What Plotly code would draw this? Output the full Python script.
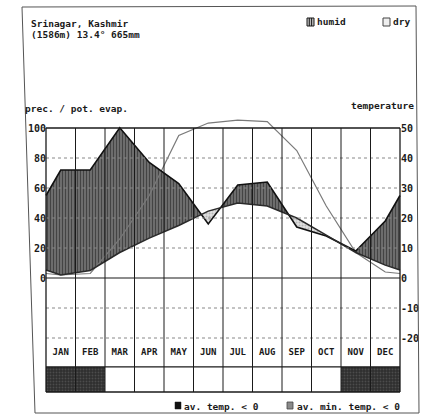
import plotly.graph_objects as go

# ---------------- data ----------------
months = ["JAN", "FEB", "MAR", "APR", "MAY", "JUN", "JUL", "AUG", "SEP", "OCT", "NOV", "DEC"]
prec_mm = [72, 72, 101, 77, 63, 36, 62, 64, 34, 28, 18, 38]          # precipitation
temp_c = [1.0, 2.5, 8.5, 13.3, 17.5, 22.3, 25.0, 24.0, 20.0, 14.3, 8.5, 4.3]  # av. temperature
pet_mm = [2, 3, 26, 55, 95, 133, 153, 143, 85, 48, 17, 4]            # pot. evaporation
frost_min = [1, 1, 0, 0, 0, 0, 0, 0, 0, 0, 1, 1]                      # av. min. temp < 0
left_ticks = [0, 20, 40, 60, 80, 100]
right_ticks = [-20, -10, 0, 10, 20, 30, 40, 50]

W, H = 424, 419
FONT = "DejaVu Sans Mono"
INK = "#1a1a1a"

# layout constants (in prec units of the left axis)
LABEL_Y = -49.5
ROW_MID = -59.3
ROW_BOT = -76.0


def pxx(x):
    return x / W


def pxy(y):
    return 1 - y / H


def disp(v):
    # Walter-Lieth: above 100 mm the scale is reduced to 1/10
    return v if v <= 100 else 100 + (v - 100) / 10.0


n = len(months)
xs = [0.0] + [i + 0.5 for i in range(n)] + [float(n)]


def closed(vals):
    e = (vals[0] + vals[-1]) / 2.0
    return [e] + list(vals) + [e]


P = closed([disp(v) for v in prec_mm])
T2 = closed([2 * t for t in temp_c])
E = closed([disp(v) for v in pet_mm])
Tc = closed(temp_c)

# polygon vertices incl. crossing points of prec and temperature curves
X, PP, TT = [xs[0]], [P[0]], [T2[0]]
for k in range(len(xs) - 1):
    d0 = P[k] - T2[k]
    d1 = P[k + 1] - T2[k + 1]
    if d0 * d1 < 0:
        f = d0 / (d0 - d1)
        xc = xs[k] + f * (xs[k + 1] - xs[k])
        vc = P[k] + f * (P[k + 1] - P[k])
        X.append(xc); PP.append(vc); TT.append(vc)
    X.append(xs[k + 1]); PP.append(P[k + 1]); TT.append(T2[k + 1])

hum_top = [max(a, b) for a, b in zip(PP, TT)]
dry_bot = [min(a, b) for a, b in zip(PP, TT)]

fig = go.Figure()

# humid (hatched)
fig.add_trace(go.Scatter(
    x=X + X[::-1], y=hum_top + TT[::-1], fill="toself", mode="lines",
    line=dict(width=0), fillcolor="#6e6e6e",
    fillpattern=dict(shape="|", size=3, solidity=0.55, fgcolor="#080808", bgcolor="#808080"),
    hoverinfo="skip"))
# dry (dotted)
fig.add_trace(go.Scatter(
    x=X + X[::-1], y=TT + dry_bot[::-1], fill="toself", mode="lines",
    line=dict(width=0), fillcolor="#dddddd",
    fillpattern=dict(shape=".", size=3, solidity=0.35, fgcolor="#8a8a8a", bgcolor="#e0e0e0"),
    hoverinfo="skip"))

# frost row
fx, fy = [], []
for i, f in enumerate(frost_min):
    if f:
        fx += [i, i + 1, i + 1, i, i, None]
        fy += [ROW_BOT, ROW_BOT, ROW_MID, ROW_MID, ROW_BOT, None]
fig.add_trace(go.Scatter(
    x=fx, y=fy, fill="toself", mode="lines", line=dict(width=0),
    fillcolor="#333333",
    fillpattern=dict(shape=".", size=3, solidity=0.3, fgcolor="#6a6a6a", bgcolor="#2e2e2e"),
    hoverinfo="skip"))

# curves
fig.add_trace(go.Scatter(x=xs, y=E, mode="lines", line=dict(color="#7a7a7a", width=1.2), hoverinfo="skip"))
fig.add_trace(go.Scatter(x=xs, y=Tc, yaxis="y2", mode="lines", line=dict(color="#2a2a2a", width=1.5), hoverinfo="skip"))
fig.add_trace(go.Scatter(x=xs, y=P, mode="lines", line=dict(color="#111111", width=1.6), hoverinfo="skip"))

# month labels
fig.add_trace(go.Scatter(
    x=[i + 0.5 for i in range(n)], y=[LABEL_Y] * n, mode="text", text=["<b>%s</b>" % m for m in months],
    textfont=dict(family=FONT, size=9, color=INK), hoverinfo="skip"))

shapes = []
# horizontal grid
for v in [20, 40, 60, 80, -20, -40]:
    shapes.append(dict(type="line", xref="x", yref="y", x0=0, x1=n, y0=v, y1=v,
                       line=dict(color="#888888", width=1, dash="dot")))
for v, w in [(0, 1.2), (100, 1.3), (ROW_MID, 1.2), (ROW_BOT, 1.3)]:
    shapes.append(dict(type="line", xref="x", yref="y", x0=0, x1=n, y0=v, y1=v,
                       line=dict(color=INK, width=w)))
# vertical month lines
for i in range(n + 1):
    shapes.append(dict(type="line", xref="x", yref="y", x0=i, x1=i, y0=ROW_BOT, y1=100,
                       line=dict(color=INK, width=1.3 if i in (0, n) else 1)))

# outer frame (slightly skewed like the scan)
shapes.append(dict(type="path", xref="paper", yref="paper",
                   path=f"M {pxx(22)},{pxy(7)} L {pxx(416)},{pxy(6)} L {pxx(419)},{pxy(413)} L {pxx(35)},{pxy(413)} Z",
                   line=dict(color="#555555", width=1)))

# top legend boxes
shapes.append(dict(type="rect", xref="paper", yref="paper", x0=pxx(307), x1=pxx(314), y0=pxy(26), y1=pxy(18),
                   line=dict(color=INK, width=1), fillcolor="#bbbbbb"))
for xx in (309.3, 311.6):
    shapes.append(dict(type="line", xref="paper", yref="paper", x0=pxx(xx), x1=pxx(xx), y0=pxy(26), y1=pxy(18),
                       line=dict(color=INK, width=1)))
shapes.append(dict(type="rect", xref="paper", yref="paper", x0=pxx(383), x1=pxx(390), y0=pxy(26), y1=pxy(18),
                   line=dict(color="#444444", width=1), fillcolor="#eeeeee"))
# bottom legend boxes
shapes.append(dict(type="rect", xref="paper", yref="paper", x0=pxx(175), x1=pxx(181), y0=pxy(409), y1=pxy(402),
                   line=dict(color=INK, width=0.5), fillcolor="#111111"))
shapes.append(dict(type="rect", xref="paper", yref="paper", x0=pxx(287), x1=pxx(293), y0=pxy(409), y1=pxy(402),
                   line=dict(color="#444444", width=0.8), fillcolor="#8a8a8a"))

annotations = []


def txt(s, x, y, anchor="left", size=10):
    annotations.append(dict(text="<b>%s</b>" % s, x=pxx(x), y=pxy(y), xref="paper", yref="paper",
                            xanchor=anchor, yanchor="middle", showarrow=False,
                            font=dict(family=FONT, size=size, color=INK)))


txt("Srinagar, Kashmir", 29, 24, size=9.5)
txt("(1586m) 13.4° 665mm", 29, 35, size=9.5)
txt("humid", 315, 22, size=9.5)
txt("dry", 391, 22, size=9.5)
txt("prec. / pot. evap.", 23, 108, size=9.5)
txt("temperature", 416, 105, anchor="right", size=9.5)
txt("av. temp. < 0", 182, 406, size=9.5)
txt("av. min. temp. < 0", 295, 406, size=9.5)

tickfont = dict(family=FONT, size=10, color=INK)
fig.update_layout(
    width=W, height=H, margin=dict(l=0, r=0, t=0, b=0),
    paper_bgcolor="white", plot_bgcolor="white", showlegend=False,
    xaxis=dict(domain=[40 / W, 406 / W], range=[(40 - 46) / 29.5, (406 - 46) / 29.5],
               visible=False, fixedrange=True),
    yaxis=dict(domain=[1 - 398 / H, 1 - 110 / H], range=[-80, 112], anchor="free", position=46 / W,
               tickvals=left_ticks, ticktext=["<b>%d</b>" % v for v in left_ticks], ticks="",
               showgrid=False, zeroline=False, showline=False, fixedrange=True, tickfont=tickfont),
    yaxis2=dict(overlaying="y", side="right", anchor="free", position=400 / W, range=[-40, 56],
                tickvals=right_ticks, ticktext=["<b>%d</b>" % v for v in right_ticks], ticks="",
                showgrid=False, zeroline=False, showline=False, fixedrange=True, tickfont=tickfont),
    shapes=shapes, annotations=annotations,
)

fig.write_html("out.html", config={"displayModeBar": False},
               post_script="document.body.style.margin='0px';document.body.style.padding='0px';")
